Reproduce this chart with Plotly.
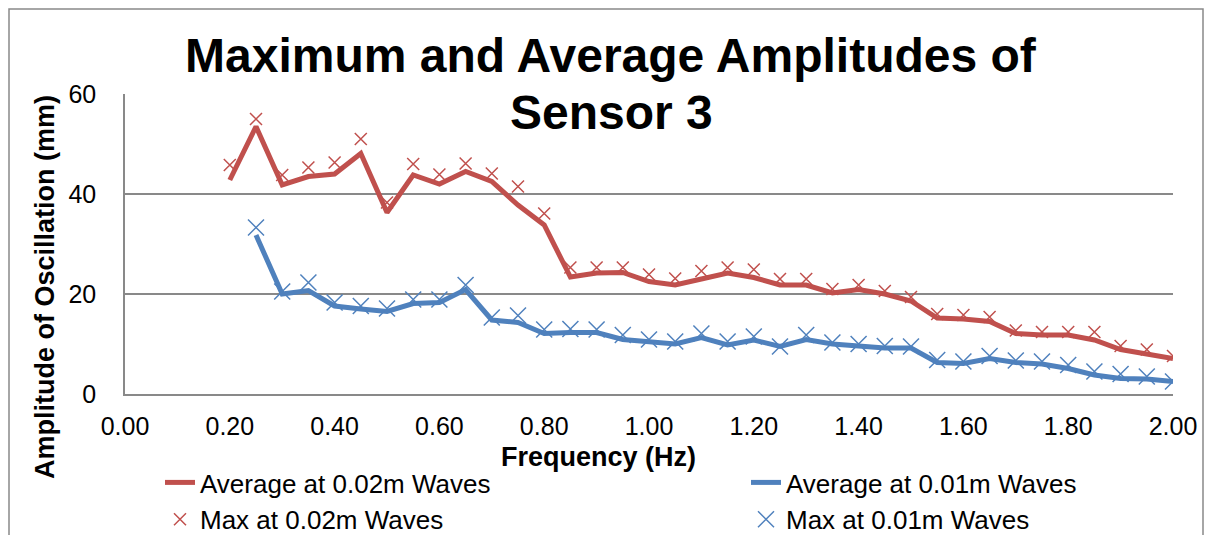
import plotly.graph_objects as go

# frequency values (Hz)
freq_02 = [0.20, 0.25, 0.30, 0.35, 0.40, 0.45, 0.50, 0.55, 0.60, 0.65, 0.70, 0.75,
           0.80, 0.85, 0.90, 0.95, 1.00, 1.05, 1.10, 1.15, 1.20, 1.25, 1.30, 1.35,
           1.40, 1.45, 1.50, 1.55, 1.60, 1.65, 1.70, 1.75, 1.80, 1.85, 1.90, 1.95, 2.00]
freq_01 = [0.25, 0.30, 0.35, 0.40, 0.45, 0.50, 0.55, 0.60, 0.65, 0.70, 0.75,
           0.80, 0.85, 0.90, 0.95, 1.00, 1.05, 1.10, 1.15, 1.20, 1.25, 1.30, 1.35,
           1.40, 1.45, 1.50, 1.55, 1.60, 1.65, 1.70, 1.75, 1.80, 1.85, 1.90, 1.95, 2.00]

# amplitudes (mm)
avg_02 = [42.8, 53.5, 41.8, 43.5, 44.0, 48.1, 36.3, 43.8, 42.0, 44.5, 42.5, 37.8,
          33.8, 23.4, 24.2, 24.3, 22.5, 21.8, 23.0, 24.2, 23.3, 21.8, 21.8, 20.2,
          20.9, 20.0, 18.6, 15.2, 15.0, 14.5, 12.1, 11.8, 11.8, 10.8, 8.9, 8.0, 7.1]
max_02 = [45.8, 55.0, 43.8, 45.3, 46.3, 51.0, 38.3, 46.0, 43.9, 46.1, 44.1, 41.5,
          36.1, 25.3, 25.3, 25.3, 23.9, 23.1, 24.6, 25.3, 24.9, 23.0, 23.0, 21.0,
          21.8, 20.6, 19.4, 16.0, 15.8, 15.4, 12.7, 12.4, 12.4, 12.4, 9.6, 8.9, 7.6]
avg_01 = [31.8, 20.0, 20.7, 17.6, 17.0, 16.5, 18.1, 18.3, 20.9, 14.8, 14.3,
          12.1, 12.3, 12.3, 10.9, 10.5, 10.0, 11.3, 9.8, 10.8, 9.5, 10.9, 10.0,
          9.6, 9.2, 9.2, 6.3, 6.1, 7.1, 6.3, 6.0, 5.1, 3.8, 3.1, 3.0, 2.5]
max_01 = [33.3, 20.5, 22.3, 18.3, 17.6, 17.1, 18.9, 18.9, 21.8, 15.3, 15.7,
          12.9, 13.0, 12.9, 11.8, 10.9, 10.5, 12.1, 10.5, 11.5, 9.5, 11.8, 10.3,
          10.0, 9.6, 9.5, 6.8, 6.5, 7.6, 6.7, 6.5, 5.8, 4.5, 4.0, 3.5, 2.5]

RED = "#C0504D"
BLUE = "#4F81BD"
GRID = "#898989"
FONT = "Arial, Liberation Sans, sans-serif"

# page has an 8px body margin, so the figure is a bit smaller than the window
W, H = 1205, 527

fig = go.Figure()
fig.add_trace(go.Scatter(x=freq_02, y=avg_02, mode="lines", name="Average at 0.02m Waves",
                         line=dict(color=RED, width=5), legend="legend"))
fig.add_trace(go.Scatter(x=freq_01, y=avg_01, mode="lines", name="Average at 0.01m Waves",
                         line=dict(color=BLUE, width=5), legend="legend2"))
fig.add_trace(go.Scatter(x=freq_02, y=max_02, mode="markers", name="Max at 0.02m Waves",
                         marker=dict(symbol="x-thin", size=12, line=dict(color=RED, width=1.5)),
                         legend="legend"))
fig.add_trace(go.Scatter(x=freq_01, y=max_01, mode="markers", name="Max at 0.01m Waves",
                         marker=dict(symbol="x-thin", size=16, line=dict(color=BLUE, width=1.5)),
                         legend="legend2"))

leg = dict(orientation="v", xref="container", yref="container", xanchor="left",
           y=1 - 451 / H, yanchor="top", font=dict(size=26, color="black"),
           bgcolor="rgba(0,0,0,0)", tracegroupgap=0)

fig.update_layout(
    width=W, height=H,
    margin=dict(l=117, r=40, t=86, b=141, autoexpand=False),
    paper_bgcolor="white", plot_bgcolor="white",
    font=dict(family=FONT, color="black"),
    legend=dict(leg, x=152 / W),
    legend2=dict(leg, x=738 / W),
    showlegend=True,
)

fig.update_xaxes(range=[0, 2], dtick=0.2, tick0=0, tickformat=".2f",
                 showgrid=False, showline=True, linecolor=GRID, linewidth=1.5,
                 ticks="", tickfont=dict(size=25), ticklabelstandoff=9,
                 zeroline=False, automargin=False)
fig.update_yaxes(range=[0, 60], dtick=20, tick0=0,
                 showgrid=True, gridcolor=GRID, gridwidth=1.5,
                 showline=True, linecolor=GRID, linewidth=1.5,
                 ticks="", tickfont=dict(size=25), ticklabelstandoff=22,
                 zeroline=False, automargin=False)

# title, two lines placed separately
fig.add_annotation(text="<b>Maximum and Average Amplitudes of</b>", xref="paper", yref="paper",
                   x=(611 - 125) / 1048, y=(394 - 56) / 300, showarrow=False,
                   font=dict(size=48, color="black"), xanchor="center", yanchor="middle")
fig.add_annotation(text="<b>Sensor 3</b>", xref="paper", yref="paper",
                   x=(611 - 125) / 1048, y=(394 - 112) / 300, showarrow=False,
                   font=dict(size=48, color="black"), xanchor="center", yanchor="middle")

# axis titles (offset from the plot centre like the original)
fig.add_annotation(text="<b>Frequency (Hz)</b>", xref="paper", yref="paper",
                   x=(598 - 125) / 1048, y=(394 - 457) / 300,
                   showarrow=False, font=dict(size=27, color="black"),
                   xanchor="center", yanchor="middle")
fig.add_annotation(text="<b>Amplitude of Oscillation (mm)</b>", xref="paper", yref="paper",
                   x=(45 - 125) / 1048, y=(394 - 287) / 300, textangle=-90,
                   showarrow=False, font=dict(size=27, color="black"),
                   xanchor="center", yanchor="middle")

# chart area border (right edge only partly inside the page)
fig.add_shape(type="rect", xref="paper", yref="paper",
              x0=(9 - 125) / 1048, x1=(1203 - 125) / 1048,
              y0=(394 - 560) / 300, y1=(394 - 9) / 300,
              line=dict(color=GRID, width=1.5), layer="below")

fig.write_html("out.html")
